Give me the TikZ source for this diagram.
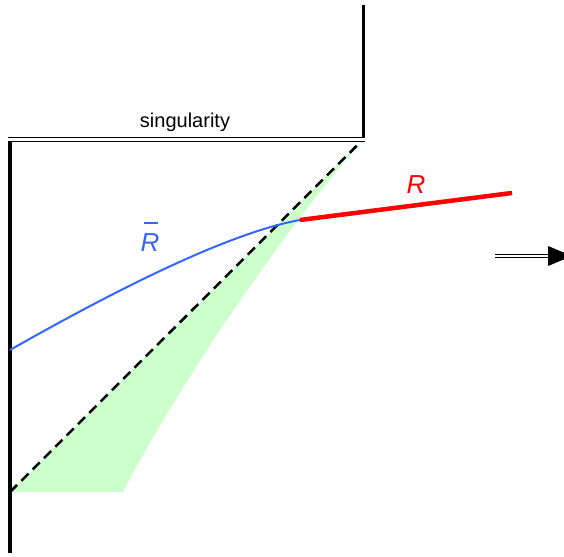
\documentclass[tikz,border=0pt]{standalone}
\usepackage{fontspec}
\setmainfont{Liberation Sans}
\usetikzlibrary{arrows.meta, positioning, calc}
\definecolor{zonegreen}{RGB}{204,255,204}
\definecolor{rbarblue}{RGB}{51,102,255}
\definecolor{rred}{RGB}{255,0,0}
\tikzset{
  wall/.style ={draw=black, line width=3.5pt},
  sing/.style ={draw=black, double=white, line width=1.5pt, double distance=2.5pt},
  hzn/.style  ={draw=black, line width=2.5pt, dash pattern=on 10pt off 6pt},
  zone/.style ={fill=zonegreen, draw=none},
  rbar/.style ={draw=rbarblue, line width=2pt},
  rline/.style={draw=rred, line width=4.5pt},
  lbl/.style  ={inner sep=0pt, anchor=base},
  impl/.style ={draw=black, double=white, line width=1.3pt, double distance=2.2pt},
}
\newcommand{\barR}{\textit{R}\llap{\rule[27pt]{14pt}{2pt}\hspace{1pt}}}
\begin{document}
\begin{tikzpicture}[x=1pt, y=-1pt]
  \useasboundingbox (0,0) rectangle (564,556);
  % points
  \coordinate (top)    at (363,5);
  \coordinate (apex)   at (363,139.5);
  \coordinate (corner) at (10,139.5);
  \coordinate (bottom) at (10,553);
  \coordinate (base)   at (10,492);
  \coordinate (foot)   at (123,492);
  \coordinate (bstart) at (10,350);
  \coordinate (rstart) at (300,220);
  \coordinate (rend)   at (512,193);
  \coordinate (arrA)   at (495,256);
  \coordinate (arrB)   at (550,256);
  % green region
  \path[zone] (base) -- (foot) .. controls (175,392) and (270,248) .. (apex) -- cycle;
  \draw[hzn] (base) -- (apex);
  % walls and singularity
  \draw[wall] (corner) -- (bottom);
  \draw[draw=black, line width=3pt] (top) -- (apex);
  \draw[sing] ($(corner)+(-1.7,0)$) -- ($(apex)+(1.5,0)$);
  \node[lbl] (singtxt) at (185,128) {\fontsize{20}{24}\selectfont singularity};
  % curves
  \draw[rbar] (bstart) .. controls (142,275) and (239,231) .. (rstart) -- (rend);
  \draw[rline] (rstart) -- (rend);
  \node[lbl, text=rbarblue] (rbartxt) at (150,251) {\fontsize{26}{30}\selectfont \barR};
  \node[lbl, text=rred] (rtxt) at (416,193) {\fontsize{26}{30}\selectfont \textit{R}};
  % implication arrow
  \draw[impl] (arrA) -- (arrB);
  \fill[black] (548,246) -- (572,256) -- (548,266) -- cycle;
\end{tikzpicture}
\end{document}
